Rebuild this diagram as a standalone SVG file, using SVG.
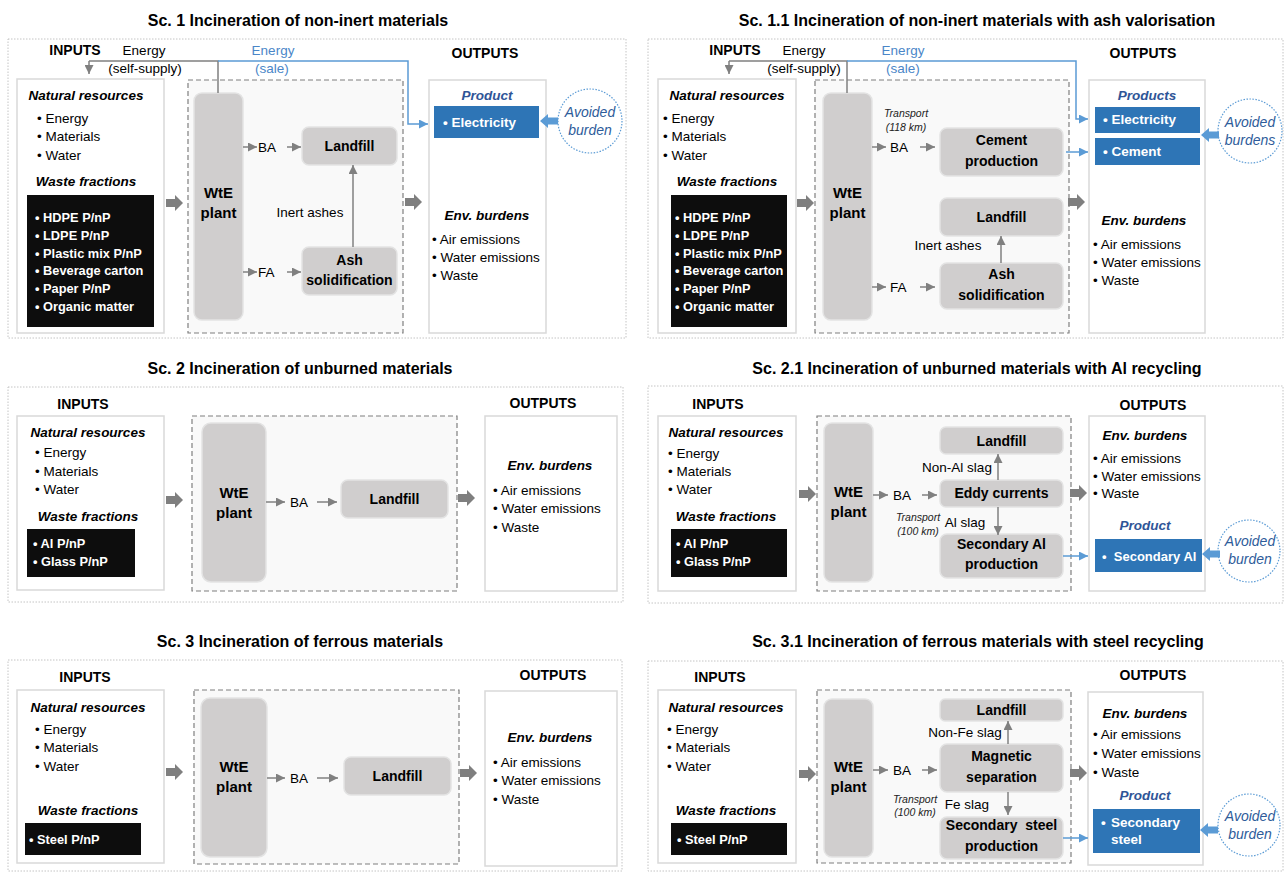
<svg xmlns="http://www.w3.org/2000/svg" xmlns:xlink="http://www.w3.org/1999/xlink" width="1284" height="874" viewBox="0 0 1284 874">
<style>
text{font-family:"Liberation Sans",Arial,sans-serif;fill:#000}
.ti{font-size:16px;font-weight:bold;text-anchor:middle}
.h{font-size:14px;font-weight:bold;text-anchor:middle}
.bi{font-size:13.5px;font-weight:bold;font-style:italic;text-anchor:middle}
.pb{font-size:13.5px;font-weight:bold;font-style:italic;text-anchor:middle;fill:#2f5597}
.b{font-size:13.5px}
.bc{font-size:13.5px;text-anchor:middle}
.eb{font-size:13.5px;text-anchor:middle;fill:#4a86c8}
.w{font-size:12.8px;font-weight:bold;fill:#fff}
.wp{font-size:13.5px;font-weight:bold;fill:#fff}
.n{font-size:14px;font-weight:bold;text-anchor:middle}
.wte{font-size:15px;font-weight:bold;text-anchor:middle}
.s{font-size:10.5px;font-style:italic;text-anchor:middle;fill:#222}
.ab{font-size:14px;font-style:italic;text-anchor:middle;fill:#2e5c9a}
.outer{fill:none;stroke:#c4c4c4;stroke-width:1;stroke-dasharray:1.5 1.5}
.io{fill:#fff;stroke:#d9d9d9;stroke-width:1.5}
.proc{fill:#f9f9f9;stroke:#7f7f7f;stroke-width:1.2;stroke-dasharray:5 3}
.node{fill:#d0cece;stroke:#e3e3e3;stroke-width:1.5}
.blk{fill:#0d0d0d}
.prod{fill:#2e75b6}
.circ{fill:#fff;stroke:#5b9bd5;stroke-width:1.2;stroke-dasharray:1.5 1.5}
.ga{fill:#7f7f7f}
.ba{fill:#5b9bd5}
.ln{fill:none;stroke:#808080;stroke-width:1.5;marker-end:url(#mg)}
.lb{fill:none;stroke:#5b9bd5;stroke-width:1.5;marker-end:url(#mb)}
.lg{fill:none;stroke:#808080;stroke-width:1.5}
</style>
<defs>
<marker id="mg" markerUnits="userSpaceOnUse" markerWidth="9" markerHeight="9" refX="9" refY="4.5" orient="auto"><path d="M0,0 L9,4.5 L0,9 Z" fill="#808080"/></marker>
<marker id="mb" markerUnits="userSpaceOnUse" markerWidth="9" markerHeight="9" refX="9" refY="4.5" orient="auto"><path d="M0,0 L9,4.5 L0,9 Z" fill="#5b9bd5"/></marker>
<path id="bigArrow" d="M0,-4 H9 V-8 L17,0 L9,8 V4 H0 Z"/>
<path id="blueArrow" d="M0,0 L8,-7 V-3.5 H18 V3.5 H8 V7 Z"/>
</defs>

<!-- ================= Sc. 1 ================= -->
<g id="sc1">
<text class="ti" x="298" y="26">Sc. 1 Incineration of non-inert materials</text>
<rect class="outer" x="8" y="39" width="618" height="299"/>
<text class="h" x="75" y="55">INPUTS</text>
<text class="bc" x="144" y="55">Energy</text>
<text class="bc" x="145" y="73">(self-supply)</text>
<text class="eb" x="273" y="55">Energy</text>
<text class="eb" x="272" y="73">(sale)</text>
<text class="h" x="485" y="58">OUTPUTS</text>
</g>
<g id="sc1-inputs">
<rect class="io" x="17" y="79" width="147" height="254"/>
<text class="bi" x="86" y="100">Natural resources</text>
<text class="b" x="37" y="123">• Energy</text>
<text class="b" x="37" y="141">• Materials</text>
<text class="b" x="37" y="160">• Water</text>
<text class="bi" x="86" y="186">Waste fractions</text>
<rect class="blk" x="27" y="195" width="127" height="132"/>
<text class="w" x="35" y="222">• HDPE P/nP</text>
<text class="w" x="35" y="240">• LDPE P/nP</text>
<text class="w" x="35" y="258">• Plastic mix P/nP</text>
<text class="w" x="35" y="275">• Beverage carton</text>
<text class="w" x="35" y="293">• Paper P/nP</text>
<text class="w" x="35" y="311">• Organic matter</text>
</g>
<g id="sc1-process"><rect class="proc" x="188" y="80" width="215" height="253"/></g>
<g id="sc1-wte"><rect class="node" x="194" y="93" width="49" height="227" rx="8"/>
<text class="wte" x="218.5" y="198">WtE</text><text class="wte" x="218.5" y="218">plant</text></g>
<g id="sc1-landfill"><rect class="node" x="302" y="127" width="95" height="38" rx="7"/>
<text class="n" x="349.5" y="151">Landfill</text></g>
<g id="sc1-ash"><rect class="node" x="302" y="247" width="95" height="48" rx="7"/>
<text class="n" x="349.5" y="265">Ash</text><text class="n" x="349.5" y="285">solidification</text></g>
<g id="sc1-outputs">
<rect class="io" x="429" y="80" width="117" height="253"/>
<text class="pb" x="487" y="100">Product</text>
<rect class="prod" x="434" y="106" width="105" height="32"/>
<text class="wp" x="443" y="127">• Electricity</text>
<text class="bi" x="487" y="220">Env. burdens</text>
<text class="b" x="432" y="244">• Air emissions</text>
<text class="b" x="432" y="262">• Water emissions</text>
<text class="b" x="432" y="280">• Waste</text>
</g>
<g id="sc1-avoided"><circle class="circ" cx="590" cy="121" r="32"/>
<text class="ab" x="590" y="117">Avoided</text><text class="ab" x="590" y="135">burden</text></g>
<g id="sc1-connectors">
<path class="lg" d="M218,93 V61 H89"/>
<path class="ln" d="M89,61 V74"/>
<path class="lb" d="M218,61 H408 V124 H428"/>
<use href="#bigArrow" class="ga" x="166" y="203"/>
<use href="#bigArrow" class="ga" x="405" y="202"/>
<path class="ln" d="M243,147 H257"/>
<text class="b" x="258" y="152">BA</text>
<path class="ln" d="M287,147 H301"/>
<path class="ln" d="M243,272 H257"/>
<text class="b" x="258" y="277">FA</text>
<path class="ln" d="M287,272 H301"/>
<path class="ln" d="M353,247 V165"/>
<text class="bc" x="310" y="217">Inert ashes</text>
<use href="#blueArrow" class="ba" x="540" y="121"/>
</g>

<!-- ================= Sc. 1.1 ================= -->
<g id="sc11">
<text class="ti" x="977" y="26">Sc. 1.1 Incineration of non-inert materials with ash valorisation</text>
<rect class="outer" x="648" y="39" width="635" height="299"/>
<text class="h" x="735" y="55">INPUTS</text>
<text class="bc" x="804" y="55">Energy</text>
<text class="bc" x="804" y="73">(self-supply)</text>
<text class="eb" x="903" y="55">Energy</text>
<text class="eb" x="903" y="73">(sale)</text>
<text class="h" x="1143" y="58">OUTPUTS</text>
</g>
<g id="sc11-inputs">
<rect class="io" x="658" y="79" width="138" height="254"/>
<text class="bi" x="727" y="100">Natural resources</text>
<text class="b" x="663" y="123">• Energy</text>
<text class="b" x="663" y="141">• Materials</text>
<text class="b" x="663" y="160">• Water</text>
<text class="bi" x="727" y="186">Waste fractions</text>
<rect class="blk" x="671" y="195" width="116" height="132"/>
<text class="w" x="675" y="222">• HDPE P/nP</text>
<text class="w" x="675" y="240">• LDPE P/nP</text>
<text class="w" x="675" y="258">• Plastic mix P/nP</text>
<text class="w" x="675" y="275">• Beverage carton</text>
<text class="w" x="675" y="293">• Paper P/nP</text>
<text class="w" x="675" y="311">• Organic matter</text>
</g>
<g id="sc11-process"><rect class="proc" x="815" y="80" width="254" height="253"/></g>
<g id="sc11-wte"><rect class="node" x="823" y="93" width="49" height="227" rx="8"/>
<text class="wte" x="847.5" y="198">WtE</text><text class="wte" x="847.5" y="218">plant</text></g>
<g id="sc11-cement"><rect class="node" x="940" y="128" width="123" height="48" rx="7"/>
<text class="n" x="1001.5" y="145">Cement</text><text class="n" x="1001.5" y="166">production</text></g>
<g id="sc11-landfill"><rect class="node" x="940" y="198" width="123" height="38" rx="7"/>
<text class="n" x="1001.5" y="222">Landfill</text></g>
<g id="sc11-ash"><rect class="node" x="940" y="263" width="123" height="46" rx="7"/>
<text class="n" x="1001.5" y="279">Ash</text><text class="n" x="1001.5" y="300">solidification</text></g>
<g id="sc11-outputs">
<rect class="io" x="1089" y="80" width="116" height="253"/>
<text class="pb" x="1147" y="100">Products</text>
<rect class="prod" x="1095" y="107" width="105" height="26"/>
<text class="wp" x="1103" y="124">• Electricity</text>
<rect class="prod" x="1095" y="138" width="105" height="27"/>
<text class="wp" x="1103" y="156">• Cement</text>
<text class="bi" x="1144" y="225">Env. burdens</text>
<text class="b" x="1093" y="249">• Air emissions</text>
<text class="b" x="1093" y="267">• Water emissions</text>
<text class="b" x="1093" y="285">• Waste</text>
</g>
<g id="sc11-avoided"><circle class="circ" cx="1250" cy="131" r="32"/>
<text class="ab" x="1250" y="127">Avoided</text><text class="ab" x="1250" y="145">burdens</text></g>
<g id="sc11-connectors">
<path class="lg" d="M847,93 V61 H729"/>
<path class="ln" d="M729,61 V74"/>
<path class="lb" d="M847,61 H1076 V119 H1088"/>
<use href="#bigArrow" class="ga" x="797" y="203"/>
<use href="#bigArrow" class="ga" x="1068" y="202"/>
<text class="s" x="906" y="117">Transport</text>
<text class="s" x="906" y="131">(118 km)</text>
<path class="ln" d="M872,147 H886"/>
<text class="b" x="890" y="152">BA</text>
<path class="ln" d="M920,147 H935"/>
<path class="lb" d="M1066,152 H1088"/>
<path class="ln" d="M872,287 H886"/>
<text class="b" x="890" y="292">FA</text>
<path class="ln" d="M920,287 H935"/>
<path class="ln" d="M1001,263 V236"/>
<text class="bc" x="948" y="250">Inert ashes</text>
<use href="#blueArrow" class="ba" x="1201" y="135"/>
</g>

<!-- ================= Sc. 2 ================= -->
<g id="sc2">
<text class="ti" x="300" y="374">Sc. 2 Incineration of unburned materials</text>
<rect class="outer" x="8" y="387" width="615" height="215"/>
<text class="h" x="83" y="409">INPUTS</text>
<text class="h" x="543" y="408">OUTPUTS</text>
</g>
<g id="sc2-inputs">
<rect class="io" x="17" y="416" width="147" height="174"/>
<text class="bi" x="88" y="437">Natural resources</text>
<text class="b" x="35" y="457">• Energy</text>
<text class="b" x="35" y="476">• Materials</text>
<text class="b" x="35" y="494">• Water</text>
<text class="bi" x="88" y="521">Waste fractions</text>
<rect class="blk" x="27" y="529" width="108" height="48"/>
<text class="w" x="33" y="548">• Al P/nP</text>
<text class="w" x="33" y="566">• Glass P/nP</text>
</g>
<g id="sc2-process"><rect class="proc" x="192" y="416" width="265" height="175"/></g>
<g id="sc2-wte"><rect class="node" x="202" y="423" width="64" height="159" rx="9"/>
<text class="wte" x="234" y="498">WtE</text><text class="wte" x="234" y="518">plant</text></g>
<g id="sc2-landfill"><rect class="node" x="341" y="480" width="107" height="38" rx="7"/>
<text class="n" x="394.5" y="504">Landfill</text></g>
<g id="sc2-outputs">
<rect class="io" x="485" y="416" width="132" height="175"/>
<text class="bi" x="550" y="470">Env. burdens</text>
<text class="b" x="493" y="495">• Air emissions</text>
<text class="b" x="493" y="513">• Water emissions</text>
<text class="b" x="493" y="532">• Waste</text>
</g>
<g id="sc2-connectors">
<use href="#bigArrow" class="ga" x="166" y="500"/>
<use href="#bigArrow" class="ga" x="458" y="498"/>
<path class="ln" d="M266,502 H285"/>
<text class="b" x="290" y="507">BA</text>
<path class="ln" d="M317,502 H337"/>
</g>

<!-- ================= Sc. 2.1 ================= -->
<g id="sc21">
<text class="ti" x="977" y="374">Sc. 2.1 Incineration of unburned materials with Al recycling</text>
<rect class="outer" x="648" y="386" width="635" height="217"/>
<text class="h" x="718" y="409">INPUTS</text>
<text class="h" x="1153" y="410">OUTPUTS</text>
</g>
<g id="sc21-inputs">
<rect class="io" x="658" y="416" width="138" height="175"/>
<text class="bi" x="726" y="437">Natural resources</text>
<text class="b" x="668" y="458">• Energy</text>
<text class="b" x="668" y="476">• Materials</text>
<text class="b" x="668" y="494">• Water</text>
<text class="bi" x="726" y="521">Waste fractions</text>
<rect class="blk" x="671" y="529" width="116" height="48"/>
<text class="w" x="676" y="548">• Al P/nP</text>
<text class="w" x="676" y="566">• Glass P/nP</text>
</g>
<g id="sc21-process"><rect class="proc" x="817" y="416" width="254" height="175"/></g>
<g id="sc21-wte"><rect class="node" x="824" y="423" width="49" height="159" rx="8"/>
<text class="wte" x="848.5" y="497">WtE</text><text class="wte" x="848.5" y="517">plant</text></g>
<g id="sc21-landfill"><rect class="node" x="940" y="427" width="123" height="27" rx="6"/>
<text class="n" x="1001.5" y="446">Landfill</text></g>
<g id="sc21-eddy"><rect class="node" x="940" y="480" width="123" height="27" rx="6"/>
<text class="n" x="1001.5" y="498">Eddy currents</text></g>
<g id="sc21-secal"><rect class="node" x="940" y="534" width="123" height="44" rx="7"/>
<text class="n" x="1001.5" y="549">Secondary Al</text><text class="n" x="1001.5" y="569">production</text></g>
<g id="sc21-outputs">
<rect class="io" x="1089" y="416" width="116" height="175"/>
<text class="bi" x="1145" y="440">Env. burdens</text>
<text class="b" x="1093" y="463">• Air emissions</text>
<text class="b" x="1093" y="481">• Water emissions</text>
<text class="b" x="1093" y="498">• Waste</text>
<text class="pb" x="1145" y="530">Product</text>
<rect class="prod" x="1095" y="539" width="107" height="33"/>
<text class="wp" x="1102" y="561" style="font-size:13px" xml:space="preserve">•  Secondary Al</text>
</g>
<g id="sc21-avoided"><circle class="circ" cx="1249" cy="551" r="31"/>
<text class="ab" x="1250" y="546">Avoided</text><text class="ab" x="1250" y="564">burden</text></g>
<g id="sc21-connectors">
<use href="#bigArrow" class="ga" x="799" y="494"/>
<use href="#bigArrow" class="ga" x="1070" y="493"/>
<path class="ln" d="M873,495 H888"/>
<text class="b" x="893" y="500">BA</text>
<path class="ln" d="M922,495 H937"/>
<path class="ln" d="M998,480 V454"/>
<text class="bc" x="957" y="472">Non-Al slag</text>
<path class="ln" d="M998,507 V535"/>
<text class="bc" x="965" y="527">Al slag</text>
<text class="s" x="918" y="521">Transport</text>
<text class="s" x="918" y="535">(100 km)</text>
<path class="lb" d="M1063,556 H1088"/>
<use href="#blueArrow" class="ba" x="1202" y="554"/>
</g>

<!-- ================= Sc. 3 ================= -->
<g id="sc3">
<text class="ti" x="300" y="647">Sc. 3 Incineration of ferrous materials</text>
<rect class="outer" x="8" y="660" width="614" height="211"/>
<text class="h" x="85" y="682">INPUTS</text>
<text class="h" x="553" y="680">OUTPUTS</text>
</g>
<g id="sc3-inputs">
<rect class="io" x="17" y="690" width="147" height="173"/>
<text class="bi" x="88" y="712">Natural resources</text>
<text class="b" x="35" y="734">• Energy</text>
<text class="b" x="35" y="752">• Materials</text>
<text class="b" x="35" y="771">• Water</text>
<text class="bi" x="88" y="815">Waste fractions</text>
<rect class="blk" x="25" y="823" width="116" height="32"/>
<text class="w" x="29" y="844">• Steel P/nP</text>
</g>
<g id="sc3-process"><rect class="proc" x="194" y="690" width="265" height="174"/></g>
<g id="sc3-wte"><rect class="node" x="201" y="698" width="66" height="159" rx="9"/>
<text class="wte" x="234" y="772">WtE</text><text class="wte" x="234" y="792">plant</text></g>
<g id="sc3-landfill"><rect class="node" x="344" y="757" width="107" height="38" rx="7"/>
<text class="n" x="397.5" y="781">Landfill</text></g>
<g id="sc3-outputs">
<rect class="io" x="485" y="691" width="132" height="175"/>
<text class="bi" x="550" y="742">Env. burdens</text>
<text class="b" x="493" y="767">• Air emissions</text>
<text class="b" x="493" y="785">• Water emissions</text>
<text class="b" x="493" y="804">• Waste</text>
</g>
<g id="sc3-connectors">
<use href="#bigArrow" class="ga" x="166" y="772"/>
<use href="#bigArrow" class="ga" x="460" y="773"/>
<path class="ln" d="M267,778 H285"/>
<text class="b" x="290" y="783">BA</text>
<path class="ln" d="M317,778 H338"/>
</g>

<!-- ================= Sc. 3.1 ================= -->
<g id="sc31">
<text class="ti" x="978" y="647">Sc. 3.1 Incineration of ferrous materials with steel recycling</text>
<rect class="outer" x="648" y="661" width="635" height="210"/>
<text class="h" x="720" y="682">INPUTS</text>
<text class="h" x="1153" y="680">OUTPUTS</text>
</g>
<g id="sc31-inputs">
<rect class="io" x="658" y="690" width="138" height="173"/>
<text class="bi" x="726" y="712">Natural resources</text>
<text class="b" x="667" y="734">• Energy</text>
<text class="b" x="667" y="752">• Materials</text>
<text class="b" x="667" y="771">• Water</text>
<text class="bi" x="726" y="815">Waste fractions</text>
<rect class="blk" x="671" y="823" width="116" height="32"/>
<text class="w" x="677" y="844">• Steel P/nP</text>
</g>
<g id="sc31-process"><rect class="proc" x="817" y="690" width="254" height="173"/></g>
<g id="sc31-wte"><rect class="node" x="824" y="699" width="49" height="158" rx="8"/>
<text class="wte" x="848.5" y="772">WtE</text><text class="wte" x="848.5" y="792">plant</text></g>
<g id="sc31-landfill"><rect class="node" x="940" y="699" width="123" height="22" rx="5"/>
<text class="n" x="1001.5" y="715">Landfill</text></g>
<g id="sc31-magnetic"><rect class="node" x="940" y="744" width="123" height="48" rx="7"/>
<text class="n" x="1001.5" y="761">Magnetic</text><text class="n" x="1001.5" y="782">separation</text></g>
<g id="sc31-secsteel"><rect class="node" x="940" y="817" width="123" height="42" rx="7"/>
<text class="n" x="1001.5" y="830" xml:space="preserve">Secondary  steel</text><text class="n" x="1001.5" y="851">production</text></g>
<g id="sc31-outputs">
<rect class="io" x="1088" y="692" width="115" height="173"/>
<text class="bi" x="1145" y="718">Env. burdens</text>
<text class="b" x="1093" y="739">• Air emissions</text>
<text class="b" x="1093" y="758">• Water emissions</text>
<text class="b" x="1093" y="777">• Waste</text>
<text class="pb" x="1145" y="800">Product</text>
<rect class="prod" x="1093" y="809" width="107" height="44"/>
<text class="wp" x="1101" y="827">•</text>
<text class="wp" x="1111" y="827">Secondary</text>
<text class="wp" x="1111" y="844">steel</text>
</g>
<g id="sc31-avoided"><circle class="circ" cx="1249" cy="825" r="31"/>
<text class="ab" x="1250" y="821">Avoided</text><text class="ab" x="1250" y="839">burden</text></g>
<g id="sc31-connectors">
<use href="#bigArrow" class="ga" x="799" y="774"/>
<use href="#bigArrow" class="ga" x="1070" y="773"/>
<path class="ln" d="M873,770 H888"/>
<text class="b" x="893" y="775">BA</text>
<path class="ln" d="M922,770 H937"/>
<path class="ln" d="M1008,744 V721"/>
<text class="bc" x="965" y="737">Non-Fe slag</text>
<path class="ln" d="M1008,792 V815"/>
<text class="bc" x="967" y="809">Fe slag</text>
<text class="s" x="915" y="803">Transport</text>
<text class="s" x="915" y="816">(100 km)</text>
<path class="lb" d="M1063,838 H1088"/>
<use href="#blueArrow" class="ba" x="1200" y="830"/>
</g>
</svg>
